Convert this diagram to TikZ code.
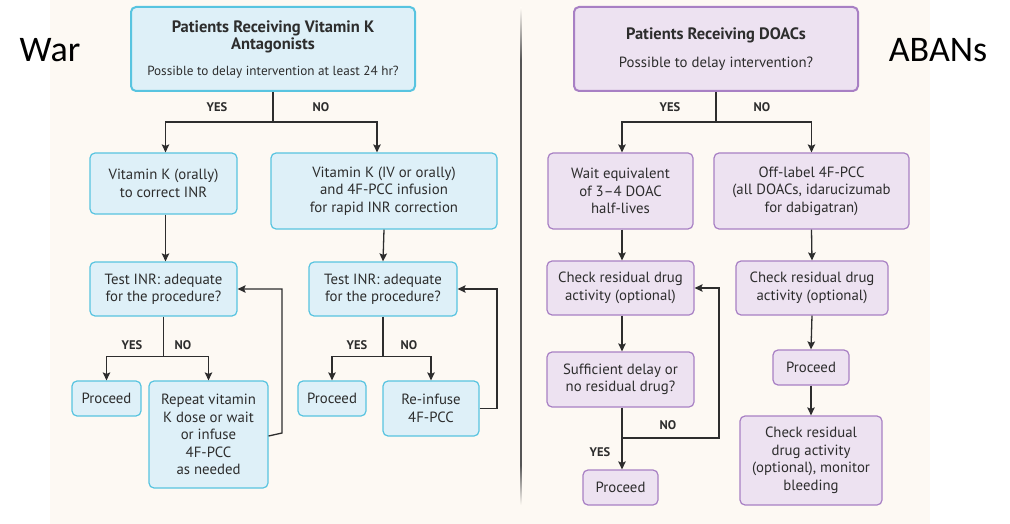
\documentclass[tikz,border=0pt]{standalone}
\usepackage{fontspec}
\setmainfont{PT Sans}
\newfontfamily\slidefont{Carlito}
\usetikzlibrary{arrows.meta,calc}
\definecolor{cream}{RGB}{253,249,243}
\definecolor{bfill}{RGB}{222,240,248}
\definecolor{bline}{RGB}{88,196,224}
\definecolor{pfill}{RGB}{237,226,241}
\definecolor{pline}{RGB}{168,128,196}
\definecolor{ink}{RGB}{45,45,45}
\definecolor{rule}{RGB}{85,85,85}
\newcommand{\headline}[1]{{\fontsize{16.5}{18}\selectfont\bfseries #1}}
\begin{document}
\begin{tikzpicture}[x=1pt,y=-1pt,
  txt/.style={font=\fontsize{14.8}{17.5}\selectfont, text=ink, align=center},
  box/.style={txt, rounded corners=5pt, line width=1.2pt, inner sep=0pt},
  bbox/.style={box, draw=bline, fill=bfill},
  pbox/.style={box, draw=pline, fill=pfill},
  headbox/.style={line width=2pt},
  dim/.style n args={2}{minimum width=#1, minimum height=#2},
  lbl/.style={font=\fontsize{12.5}{14}\selectfont\bfseries, text=ink},
  arr/.style={draw=ink, line width=1.3pt, -{Stealth[length=8pt,width=7.5pt,inset=1.5pt]}},
  ln/.style={draw=ink, line width=1.3pt},
  big/.style={font=\slidefont\fontsize{36}{40}\selectfont, text=black}]

\useasboundingbox (0,0) rectangle (1010,524);
% cream panel
\fill[cream] (50,0) rectangle (930,524);
% centre rule, fading at both ends
\fill[rule] (520.2,60) rectangle (521.8,465);
\shade[top color=cream, bottom color=rule] (520.2,8) rectangle (521.8,60);
\shade[top color=rule, bottom color=cream] (520.2,465) rectangle (521.8,505);

% side titles
\node[big] (war) at (50,50) {War};
\node[big] (abans) at (938,50) {ABANs};

% ---------- vitamin K antagonists ----------
\node[bbox, headbox, dim={284pt}{84pt}] (vka) at (273,49)
  {\headline{Patients Receiving Vitamin K}\\\headline{Antagonists}\\[8pt]{\fontsize{13.2}{15}\selectfont Possible to delay intervention at least 24 hr?}};
\node[bbox, dim={147pt}{61pt}] (vko) at (163.5,183.5) {Vitamin K (orally)\\to correct INR};
\node[bbox, dim={226pt}{76pt}] (vkiv) at (384,191) {Vitamin K (IV or orally)\\and 4F-PCC infusion\\for rapid INR correction};
\node[bbox, dim={147pt}{54pt}] (inra) at (163.5,289) {Test INR: adequate\\for the procedure?};
\node[bbox, dim={148pt}{54pt}] (inrb) at (383,289) {Test INR: adequate\\for the procedure?};
\node[bbox, dim={69pt}{35pt}] (proca) at (106.5,398.5) {Proceed};
\node[bbox, dim={119pt}{107pt}] (rep) at (208.5,434.5) {Repeat vitamin\\K dose or wait\\or infuse\\4F-PCC\\as needed};
\node[bbox, dim={68pt}{35pt}] (procb) at (332,398.5) {Proceed};
\node[bbox, dim={96pt}{55pt}] (reinf) at (431,408.5) {Re-infuse\\4F-PCC};

\draw[ln] (vka.south) -- ++(0,30) coordinate (ja);
\draw[arr] (ja) -| ([xshift=2pt]vko.north);
\draw[arr] (ja) -| ([xshift=-7pt]vkiv.north);
\node[lbl] (ya) at (217,107) {YES};
\node[lbl] (na) at (321,107) {NO};
\draw[arr] ([xshift=2pt]vko.south) -- ([xshift=2pt]inra.north);
\draw[arr] (vkiv.south) -- (inrb.north);

\draw[ln] (inra.south) -- ++(0,40) coordinate (jb);
\draw[arr] (jb) -| (proca.north);
\draw[arr] (jb) -| (rep.north);
\node[lbl] (yb) at (132,345) {YES};
\node[lbl] (nb) at (183,345) {NO};
\draw[arr] ([yshift=-1.5pt]rep.east) -- (282,433) |- (inra.east);

\draw[ln] (inrb.south) -- ++(0,40) coordinate (jc);
\draw[arr] (jc) -| (procb.north);
\draw[arr] (jc) -| (reinf.north);
\node[lbl] (yc) at (357,345) {YES};
\node[lbl] (nc) at (409,345) {NO};
\draw[arr] (reinf.east) -- (497,408.5) |- (inrb.east);

% ---------- DOACs ----------
\node[pbox, headbox, dim={284pt}{84pt}] (doac) at (716,49)
  {\headline{Patients Receiving DOACs}\\[10pt]Possible to delay intervention?};
\node[pbox, dim={145pt}{76pt}] (wait) at (620.5,191) {Wait equivalent\\of 3--4 DOAC\\half-lives};
\node[pbox, dim={195pt}{76pt}] (off) at (811.5,191) {Off-label 4F-PCC\\(all DOACs, idarucizumab\\for dabigatran)};
\node[pbox, dim={147pt}{54pt}] (chka) at (620.5,288) {Check residual drug\\activity (optional)};
\node[pbox, dim={152pt}{54pt}] (chkb) at (812,288) {Check residual drug\\activity (optional)};
\node[pbox, dim={147pt}{55pt}] (suff) at (620.5,379.5) {Sufficient delay or\\no residual drug?};
\node[pbox, dim={75pt}{35pt}] (procc) at (620.5,487.5) {Proceed};
\node[pbox, dim={76pt}{35pt}] (procd) at (811,367.5) {Proceed};
\node[pbox, dim={142pt}{89pt}] (fin) at (811,460.5) {Check residual\\drug activity\\(optional), monitor\\bleeding};

\draw[ln] (doac.south) -- ++(0,30) coordinate (jd);
\draw[arr] (jd) -| ([xshift=1.5pt]wait.north);
\draw[arr] (jd) -| (off.north);
\node[lbl] (yd) at (670,107) {YES};
\node[lbl] (nd) at (762,107) {NO};
\draw[arr] ([xshift=1.5pt]wait.south) -- ([xshift=1.5pt]chka.north);
\draw[arr] (off.south) -- (chkb.north);
\draw[arr] ([xshift=1.5pt]chka.south) -- ([xshift=1.5pt]suff.north);
\draw[ln] ([xshift=1.5pt]suff.south) -- (622,438) coordinate (je);
\draw[arr] (je) -- ([xshift=1.5pt]procc.north);
\draw[arr] (je) -- (719,438) |- (chka.east);
\node[lbl] (ne) at (668,425) {NO};
\node[lbl] (ye) at (600,452) {YES};
\draw[arr] (chkb.south) -- (procd.north);
\draw[arr] (procd.south) -- (fin.north);
\end{tikzpicture}
\end{document}
